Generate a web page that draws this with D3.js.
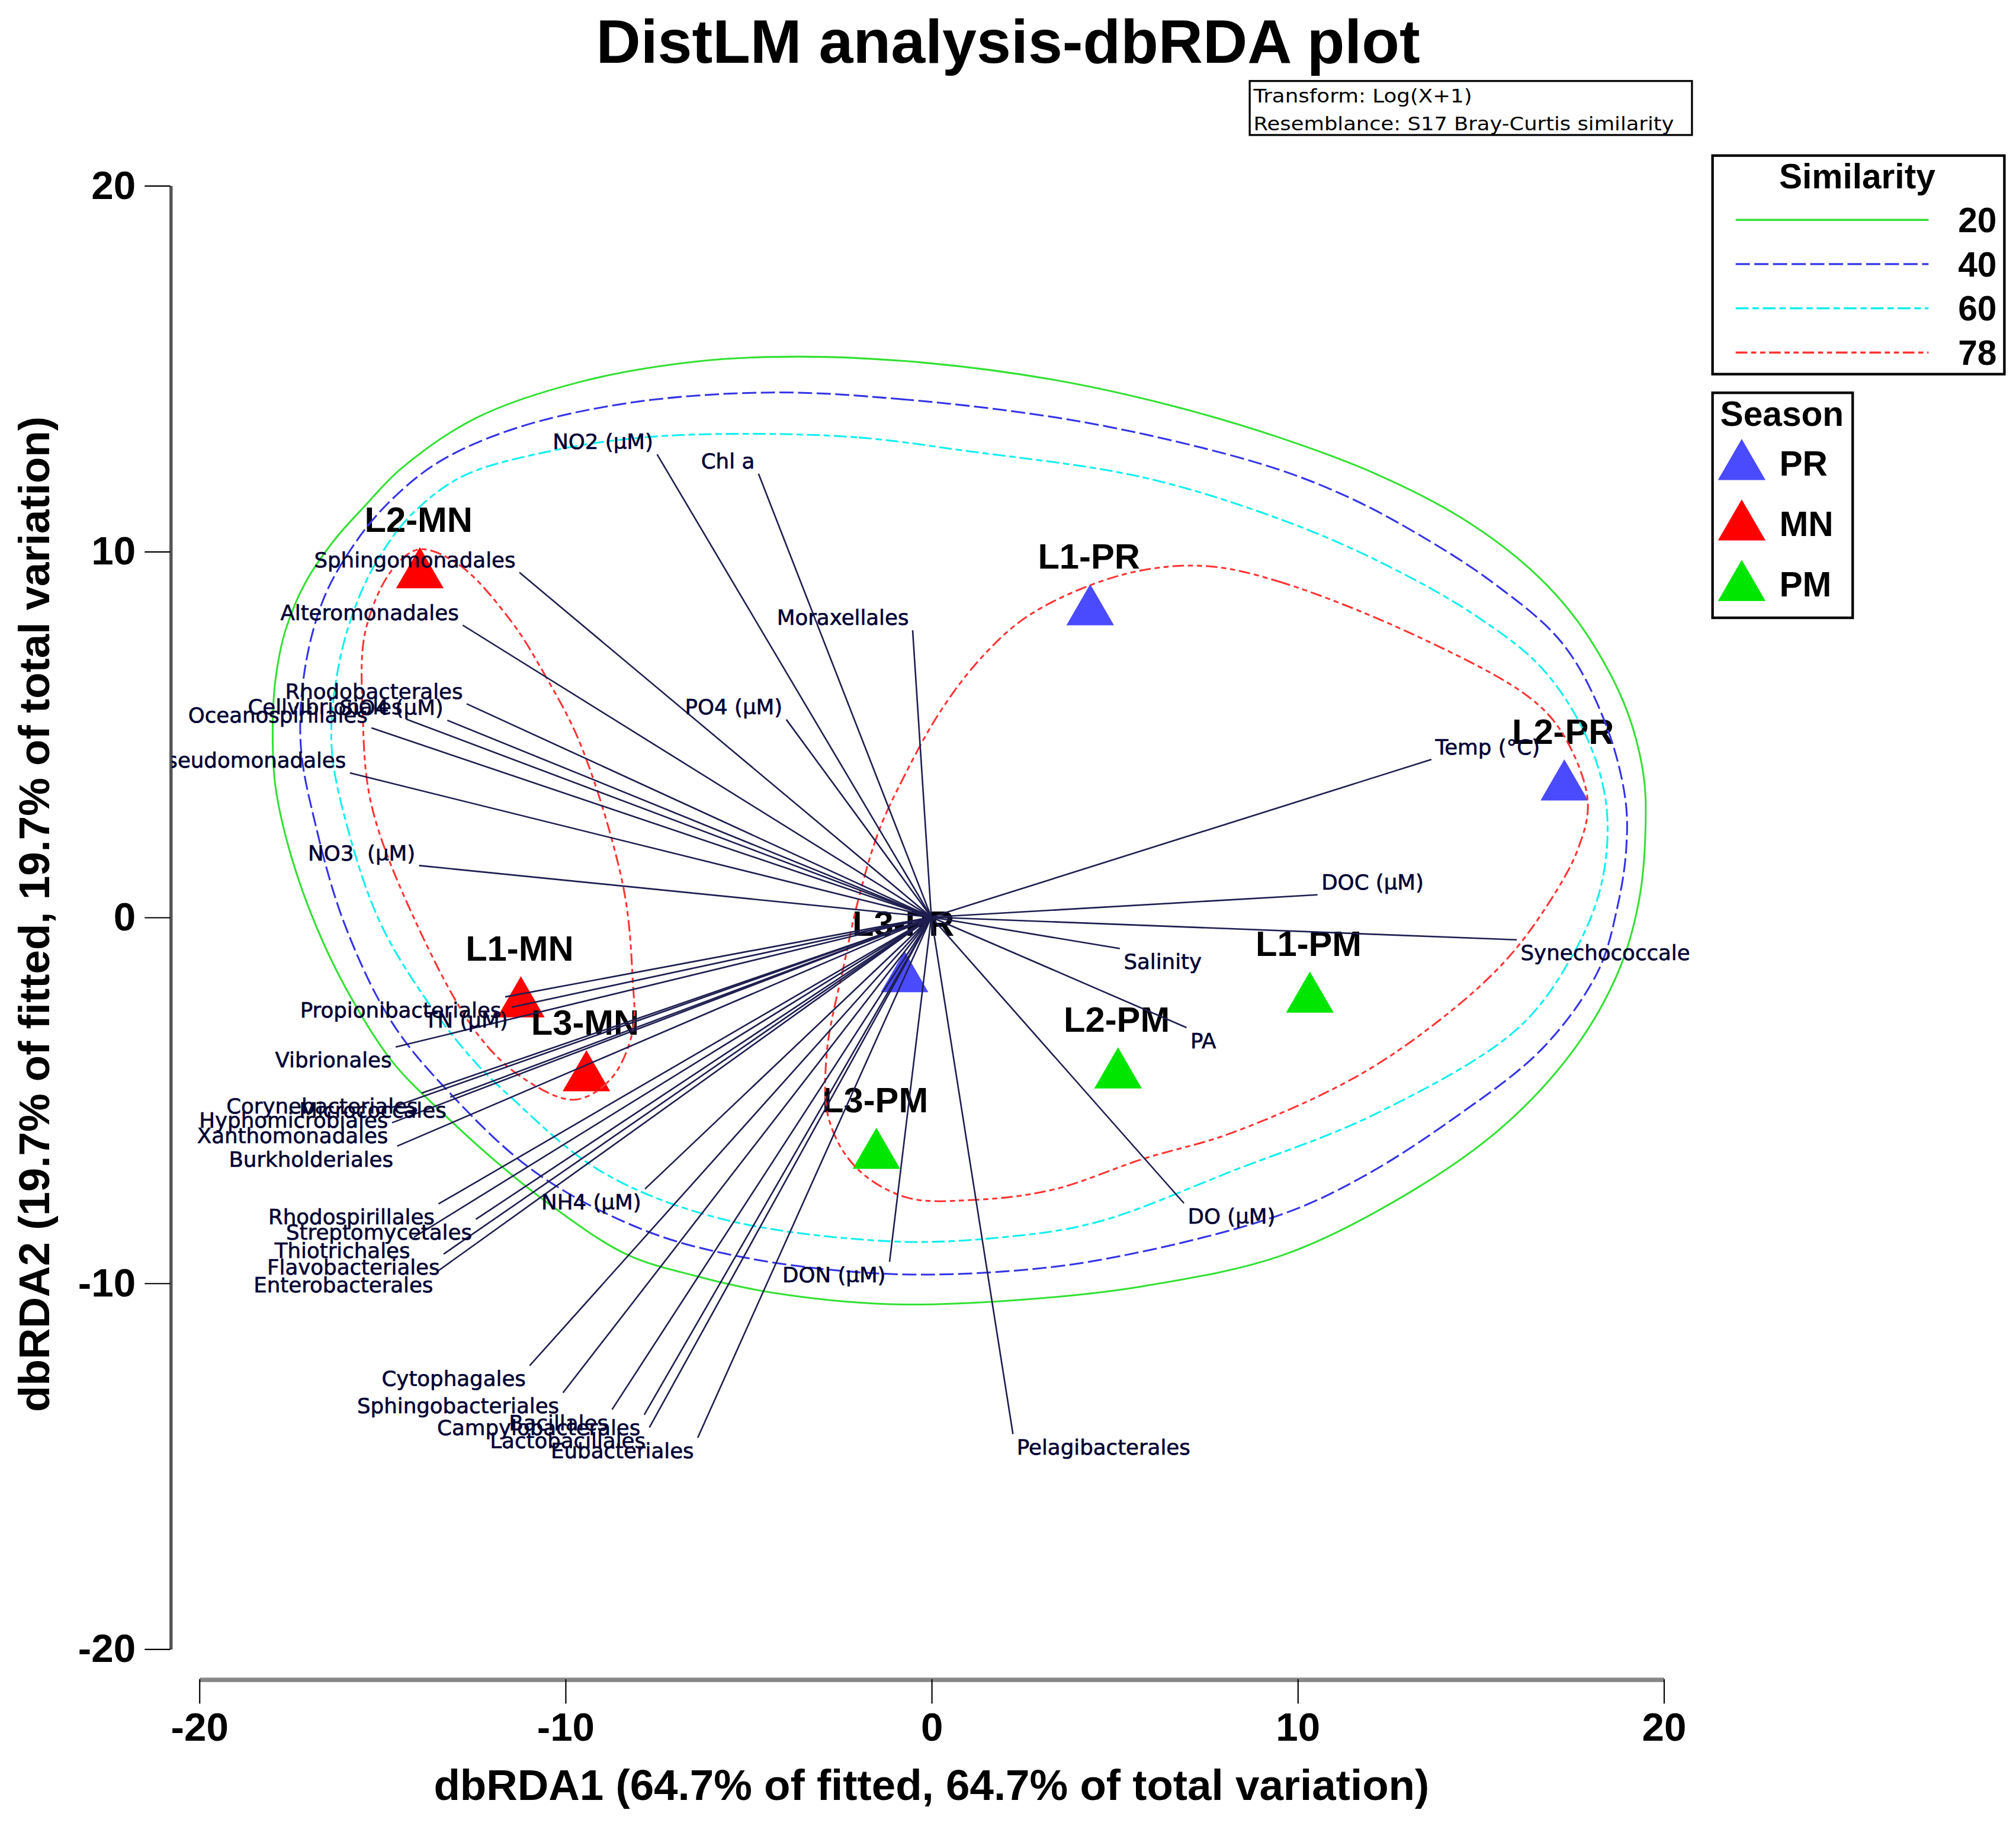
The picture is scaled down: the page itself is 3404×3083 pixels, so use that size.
<!DOCTYPE html>
<html>
<head>
<meta charset="utf-8">
<script src="https://cdn.jsdelivr.net/npm/d3@7"></script>
<style>
  html, body { margin: 0; padding: 0; background: #fff; }
  svg { display: block; }
  text { white-space: pre; }
  .bold { font-family: "Liberation Sans", Arial, sans-serif; font-weight: bold; fill: #000; }
  .vec-label { font-family: "DejaVu Sans", Verdana, sans-serif; font-size: 16.4px; fill: #000033; stroke: #000033; stroke-width: 0.3px; }
  .note { font-family: "DejaVu Sans", Verdana, sans-serif; font-size: 14.5px; fill: #000; }
</style>
</head>
<body>
<svg id="chart"></svg>
<script>
// view is laid out in a 1568 x 1420 frame, scaled up to the page size
const W = 1568, H = 1420.2;

const xTicks = [-20, -10, 0, 10, 20];
const yTicks = [-20, -10, 0, 10, 20];

// samples (dbRDA1, dbRDA2)
const sampleNames = ["L1-PR", "L2-PR", "L3-PR", "L1-MN", "L2-MN", "L3-MN", "L1-PM", "L2-PM", "L3-PM"];
const sampleSeason = ["PR", "PR", "PR", "MN", "MN", "MN", "PM", "PM", "PM"];
const sampleX = [4.34, 17.29, -0.73, -11.21, -13.97, -9.42, 10.34, 5.10, -1.50];
const sampleY = [8.54, 3.75, -1.49, -2.18, 9.55, -4.20, -2.05, -4.12, -6.32];

// vector overlay (tips)
const vectorNames = [
  "NO2 (μM)", "Chl a", "Moraxellales", "PO4 (μM)", "Sphingomonadales", "Alteromonadales",
  "Rhodobacterales", "SiO4 (μM)", "Cellvibrionales", "Oceanospirillales", "Pseudomonadales",
  "NO3  (μM)", "Temp (°C)", "DOC (μM)", "Synechococcales", "Salinity", "PA", "DO (μM)",
  "Pelagibacterales", "DON (μM)", "NH4 (μM)", "Propionibacteriales", "TN (μM)", "Vibrionales",
  "Corynebacteriales", "Micrococcales", "Hyphomicrobiales", "Xanthomonadales", "Burkholderiales",
  "Rhodospirillales", "Streptomycetales", "Thiotrichales", "Flavobacteriales", "Enterobacterales",
  "Cytophagales", "Sphingobacteriales", "Campylobacterales", "Bacillales", "Lactobacillales",
  "Eubacteriales"
];
const vectorX = [
  -7.49, -4.72, -0.51, -3.96, -11.25, -12.80, -12.69, -13.22, -14.34, -15.29, -15.88,
  -13.99, 13.66, 10.55, 15.99, 5.15, 6.97, 6.90, 2.23, -1.14, -7.82, -11.64, -11.46,
  -14.63, -13.92, -13.14, -14.73, -14.73, -14.59, -13.46, -12.44, -14.13, -13.32, -13.50,
  -10.97, -10.06, -7.84, -8.72, -7.70, -6.38
];
const vectorY = [
  12.65, 12.12, 7.84, 5.40, 9.42, 7.98, 5.83, 5.38, 5.41, 5.17, 3.94,
  1.41, 4.31, 0.61, -0.62, -0.86, -3.02, -7.82, -14.13, -9.42, -7.43, -2.18, -2.46,
  -3.55, -4.81, -4.92, -5.20, -5.62, -6.26, -7.84, -8.26, -8.75, -9.21, -9.69,
  -12.26, -13.00, -13.60, -13.46, -13.95, -14.23
];

// similarity contours
const contour20 = [[-3.63,15.32],[-0.15,15.15],[3.32,14.69],[6.52,13.99],[9.50,13.11],[12.13,12.12],[14.45,10.93],[16.35,9.52],[17.68,8.05],[18.91,5.87],[19.44,3.97],[19.51,2.57],[19.33,0.46],[18.77,-1.48],[17.58,-3.58],[15.65,-5.69],[13.19,-7.45],[9.68,-9.21],[5.78,-10.09],[2.30,-10.47],[-1.14,-10.58],[-4.37,-10.26],[-6.47,-9.80],[-8.34,-9.21],[-10.44,-7.84],[-11.81,-6.75],[-13.29,-5.41],[-14.73,-3.94],[-15.96,-2.00],[-16.83,-0.18],[-17.54,1.86],[-17.92,3.62],[-17.99,5.03],[-17.92,6.43],[-17.64,7.84],[-17.08,9.17],[-16.31,10.30],[-15.46,11.25],[-14.48,12.26],[-12.44,13.64],[-9.63,14.62],[-6.47,15.18]];
const contour40 = [[-4.37,14.34],[-0.86,14.16],[3.32,13.67],[6.52,13.04],[9.50,12.23],[11.43,11.46],[13.22,10.51],[15.30,9.17],[17.23,7.49],[18.38,5.38],[18.95,3.27],[18.98,1.86],[18.74,0.28],[18.21,-1.48],[16.70,-3.58],[14.24,-5.52],[11.78,-7.10],[9.50,-8.15],[4.55,-9.38],[1.25,-9.73],[-1.63,-9.73],[-5.07,-9.31],[-7.81,-8.57],[-10.79,-6.99],[-13.15,-4.81],[-14.73,-2.88],[-16.03,-0.18],[-16.83,2.57],[-17.22,4.67],[-17.11,6.78],[-16.59,8.72],[-15.81,10.12],[-14.90,11.25],[-13.50,12.41],[-11.39,13.35],[-8.23,14.06]];
const contour60 = [[-5.11,13.21],[-1.98,13.11],[0.83,12.76],[5.78,12.02],[9.68,10.82],[12.49,9.59],[14.94,8.19],[16.70,6.78],[17.93,4.85],[18.45,2.92],[18.28,0.81],[17.47,-1.12],[16.00,-3.06],[12.13,-5.38],[8.27,-6.92],[4.55,-8.33],[1.95,-8.75],[-1.14,-8.86],[-5.84,-8.22],[-9.07,-6.92],[-11.53,-4.88],[-12.58,-3.83],[-13.85,-2.18],[-15.04,-0.18],[-15.88,2.21],[-16.38,4.67],[-16.17,6.96],[-15.60,8.82],[-14.90,10.12],[-14.13,11.07],[-12.80,12.05],[-10.30,12.76],[-7.88,13.11]];
const contour78a = [[7.57,9.59],[9.50,9.17],[13.22,7.70],[16.38,5.97],[17.30,4.92],[17.93,3.16],[17.65,1.83],[16.73,0.18],[15.61,-1.27],[13.89,-2.81],[11.61,-4.36],[8.20,-5.90],[5.78,-6.61],[3.32,-7.45],[1.14,-7.73],[-0.68,-7.66],[-2.05,-6.85],[-2.79,-5.55],[-2.86,-3.76],[-2.37,-1.23],[-1.98,0.53],[-1.42,2.39],[-0.68,3.97],[0.20,5.55],[1.25,6.96],[2.48,8.12],[4.06,8.96],[5.81,9.49]];
const contour78b = [[-13.99,10.05],[-12.90,9.63],[-11.50,8.12],[-10.55,6.61],[-9.56,4.67],[-8.41,0.81],[-8.16,-1.65],[-8.16,-3.13],[-8.76,-4.43],[-9.74,-4.99],[-11.11,-4.43],[-12.37,-3.23],[-14.06,-0.18],[-15.29,3.06],[-15.53,5.59],[-15.46,7.80],[-14.73,9.49]];

const similarityLevels = ["20", "40", "60", "78"];
const seasons = ["PR", "MN", "PM"];

const levelStyle = {
  "20": { color: "#33e033", dash: null },
  "40": { color: "#3333e6", dash: "11,3.5" },
  "60": { color: "#11eeee", dash: "10,3,5,3" },
  "78": { color: "#ff3333", dash: "9,3,4,3,4,3" },
};
const seasonColor = { PR: "#4a4aff", MN: "#ff0000", PM: "#00e600" };

const svg = d3.select("#chart")
  .attr("width", 3404)
  .attr("height", 3083)
  .attr("viewBox", `0 0 ${W} ${H}`);

const x = d3.scaleLinear().domain([-20, 20]).range([154.8, 1293.9]);
const y = d3.scaleLinear().domain([-20, 20]).range([1282.4, 144.2]);

// triangle centred on its bounding box
const triW = 37, triH = 32;
const triPath = `M0,${-triH / 2}L${triW / 2},${triH / 2}L${-triW / 2},${triH / 2}Z`;

// title
svg.append("text").attr("class", "bold")
  .attr("x", 784).attr("y", 49)
  .attr("text-anchor", "middle").attr("font-size", 48)
  .text("DistLM analysis-dbRDA plot");

// transform / resemblance box
svg.append("rect")
  .attr("x", 972).attr("y", 63).attr("width", 344).attr("height", 42)
  .attr("fill", "none").attr("stroke", "#000").attr("stroke-width", 1.5);
svg.append("text").attr("class", "note").attr("x", 975).attr("y", 79.5)
  .attr("textLength", 170).attr("lengthAdjust", "spacingAndGlyphs")
  .text("Transform: Log(X+1)");
svg.append("text").attr("class", "note").attr("x", 975).attr("y", 101.5)
  .attr("textLength", 327).attr("lengthAdjust", "spacingAndGlyphs")
  .text("Resemblance: S17 Bray-Curtis similarity");

// axes
const yAxis = svg.append("g")
  .attr("transform", "translate(132.5,0)")
  .call(d3.axisLeft(y).tickValues(yTicks).tickSize(20).tickSizeOuter(0).tickPadding(7)
    .tickFormat((d) => String(d)));
yAxis.select(".domain").attr("stroke", "#555").attr("stroke-width", 2.5);
yAxis.selectAll(".tick line").attr("stroke", "#000").attr("stroke-width", 1);
yAxis.selectAll(".tick text").attr("class", "bold").attr("font-size", 31).attr("fill", "#000");

const xAxis = svg.append("g")
  .attr("transform", "translate(0,1306)")
  .call(d3.axisBottom(x).tickValues(xTicks).tickSize(19).tickSizeOuter(0).tickPadding(7)
    .tickFormat((d) => String(d)));
xAxis.select(".domain").attr("stroke", "#888").attr("stroke-width", 3.5);
xAxis.selectAll(".tick line").attr("stroke", "#000").attr("stroke-width", 1);
xAxis.selectAll(".tick text").attr("class", "bold").attr("font-size", 31).attr("fill", "#000");

svg.append("text").attr("class", "bold")
  .attr("x", 724.5).attr("y", 1400).attr("text-anchor", "middle").attr("font-size", 33.5)
  .text("dbRDA1 (64.7% of fitted, 64.7% of total variation)");
svg.append("text").attr("class", "bold")
  .attr("transform", "translate(38,711) rotate(-90)")
  .attr("text-anchor", "middle").attr("font-size", 33.5)
  .text("dbRDA2 (19.7% of fitted, 19.7% of total variation)");

// plot area, labels are cut at the frame
svg.append("clipPath").attr("id", "plotClip")
  .append("rect").attr("x", 133.5).attr("y", 100).attr("width", 1180.5).attr("height", 1200);
const plot = svg.append("g").attr("clip-path", "url(#plotClip)");

const samples = sampleNames.map((name, i) => ({
  name, season: sampleSeason[i], x: sampleX[i], y: sampleY[i]
}));

plot.append("g").selectAll("path")
  .data(samples)
  .join("path")
  .attr("d", triPath)
  .attr("transform", (d) => `translate(${x(d.x)},${y(d.y)})`)
  .attr("fill", (d) => seasonColor[d.season]);

plot.append("g").selectAll("text")
  .data(samples)
  .join("text")
  .attr("class", "bold")
  .attr("font-size", 27.5)
  .attr("text-anchor", "middle")
  .attr("x", (d) => x(d.x) - 1)
  .attr("y", (d) => y(d.y) - 28)
  .text((d) => d.name);

// contours
const contourLine = d3.line()
  .x((d) => x(d[0]))
  .y((d) => y(d[1]))
  .curve(d3.curveCatmullRomClosed.alpha(0.5));

const contours = [
  { level: "20", pts: contour20 },
  { level: "40", pts: contour40 },
  { level: "60", pts: contour60 },
  { level: "78", pts: contour78a },
  { level: "78", pts: contour78b },
];

plot.append("g").selectAll("path")
  .data(contours)
  .join("path")
  .attr("d", (d) => contourLine(d.pts))
  .attr("fill", "none")
  .attr("stroke", (d) => levelStyle[d.level].color)
  .attr("stroke-width", 1.4)
  .attr("stroke-dasharray", (d) => levelStyle[d.level].dash);

// vectors
const vectors = vectorNames.map((name, i) => ({ name, x: vectorX[i], y: vectorY[i] }));

plot.append("g").selectAll("line")
  .data(vectors)
  .join("line")
  .attr("x1", x(0)).attr("y1", y(0))
  .attr("x2", (d) => x(d.x)).attr("y2", (d) => y(d.y))
  .attr("stroke", "#1e1e50")
  .attr("stroke-width", 1.2);

plot.append("g").selectAll("text")
  .data(vectors)
  .join("text")
  .attr("class", "vec-label")
  .attr("text-anchor", (d) => (d.x < 0 ? "end" : "start"))
  .attr("x", (d) => (d.x < 0 ? x(d.x) - 3 : x(d.x) + 3))
  .attr("y", (d) => (d.y > 0 ? y(d.y) - 4 : y(d.y) + 16))
  .text((d) => d.name);

// similarity legend
const simLegend = svg.append("g");
simLegend.append("rect")
  .attr("x", 1332).attr("y", 121).attr("width", 227).attr("height", 170)
  .attr("fill", "#fff").attr("stroke", "#000").attr("stroke-width", 2);
simLegend.append("text").attr("class", "bold")
  .attr("x", 1444.5).attr("y", 146.5).attr("text-anchor", "middle").attr("font-size", 27)
  .attr("fill", "#000033")
  .text("Similarity");
const simRows = simLegend.selectAll("g.row")
  .data(similarityLevels)
  .join("g")
  .attr("class", "row")
  .attr("transform", (d, i) => `translate(0,${171 + i * 34.4})`);
simRows.append("line")
  .attr("x1", 1350).attr("x2", 1500).attr("y1", 0).attr("y2", 0)
  .attr("stroke", (d) => levelStyle[d].color)
  .attr("stroke-width", 1.6)
  .attr("stroke-dasharray", (d) => levelStyle[d].dash);
simRows.append("text").attr("class", "bold")
  .attr("x", 1553).attr("y", 9.5).attr("text-anchor", "end").attr("font-size", 27)
  .text((d) => d);

// season legend
const seasonLegend = svg.append("g");
seasonLegend.append("rect")
  .attr("x", 1332).attr("y", 305.5).attr("width", 109).attr("height", 175)
  .attr("fill", "#fff").attr("stroke", "#000").attr("stroke-width", 2);
seasonLegend.append("text").attr("class", "bold")
  .attr("x", 1386).attr("y", 331).attr("text-anchor", "middle").attr("font-size", 27)
  .attr("fill", "#000033")
  .text("Season");
const seasonRows = seasonLegend.selectAll("g.row")
  .data(seasons)
  .join("g")
  .attr("class", "row")
  .attr("transform", (d, i) => `translate(0,${357.4 + i * 47})`);
seasonRows.append("path")
  .attr("d", triPath)
  .attr("transform", "translate(1354.7,0)")
  .attr("fill", (d) => seasonColor[d]);
seasonRows.append("text").attr("class", "bold")
  .attr("x", 1384).attr("y", 12.5).attr("font-size", 27)
  .text((d) => d);
</script>
</body>
</html>
